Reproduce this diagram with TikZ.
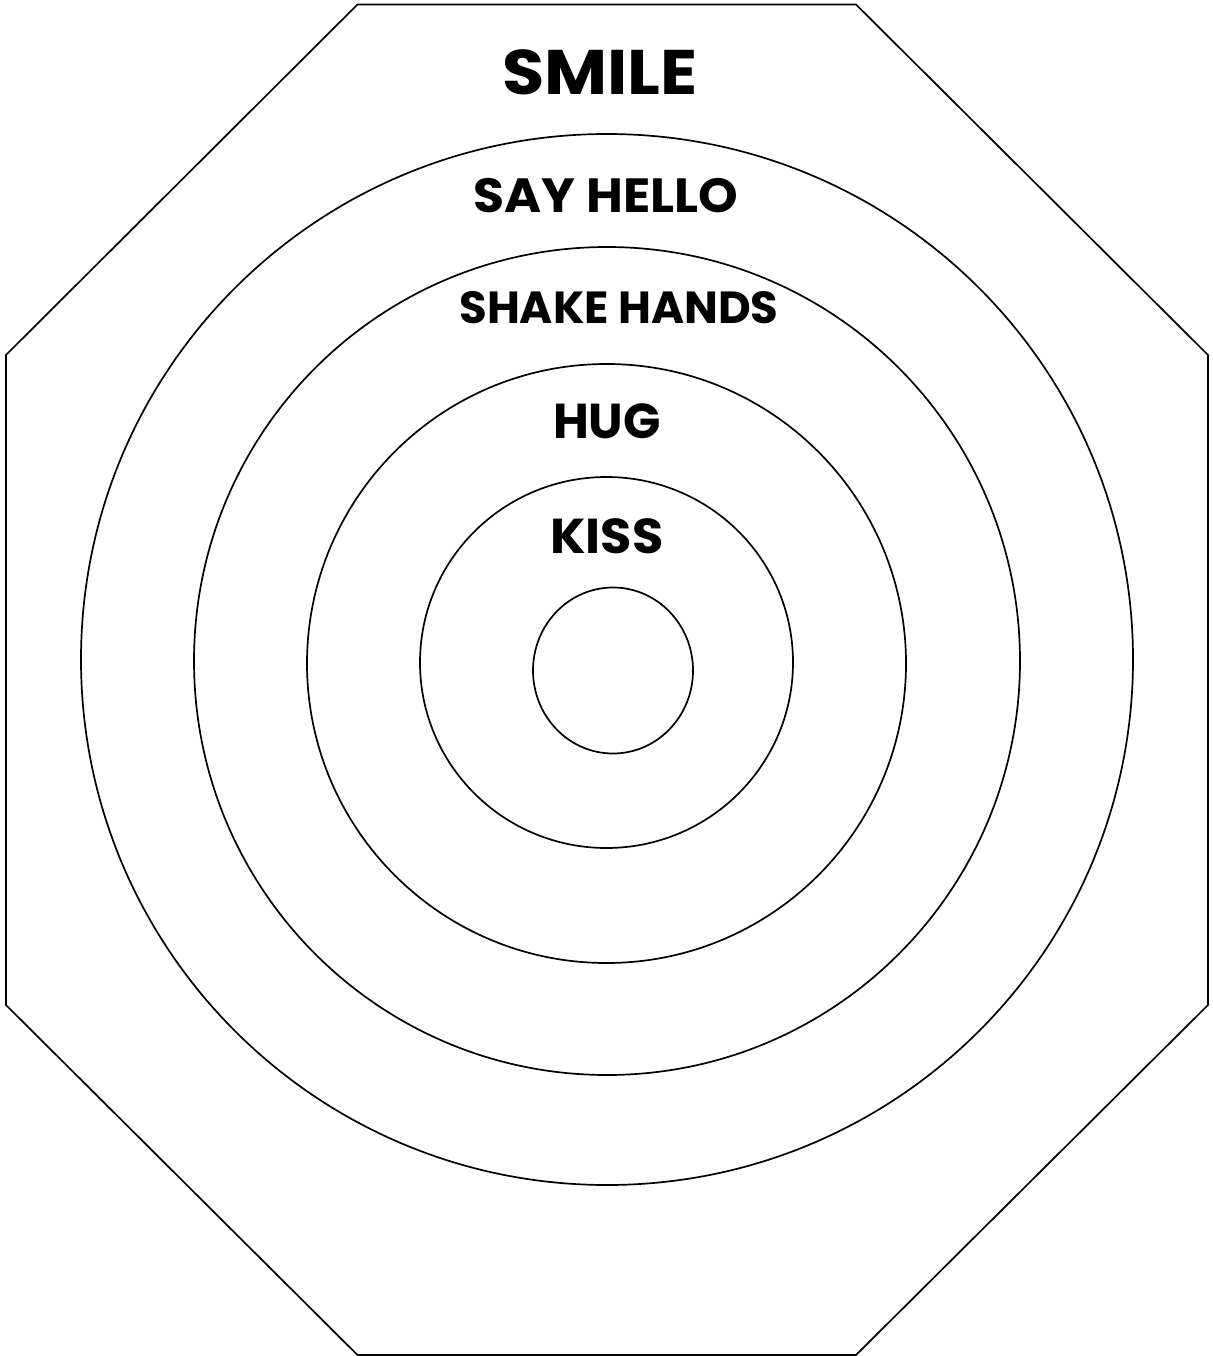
\documentclass[tikz,border=0pt]{standalone}
\usepackage{fontspec}
\setmainfont{Poppins}
\begin{document}
\begin{tikzpicture}[x=1pt,y=-1pt,
  ring/.style={draw=black,line width=1.7pt},
  lbl/.style={font=\bfseries, inner sep=0pt, anchor=base}]
\useasboundingbox (0,0) rectangle (1212,1356);
\fill[white] (0,0) rectangle (1212,1356);
\draw[ring] (357.5,4.5) -- (856,4.5) -- (1208,355) -- (1208,1005) -- (856,1355) -- (357.5,1355) -- (6,1005) -- (6,355) -- cycle;
\draw[ring] (607,659.5) ellipse [x radius=526, y radius=525.5];
\draw[ring] (607,661) ellipse [x radius=413, y radius=414];
\draw[ring] (606.5,663.5) ellipse [x radius=299.5, y radius=299.5];
\draw[ring] (606.5,662.5) ellipse [x radius=186.5, y radius=185.5];
\draw[ring] (613,670.5) ellipse [x radius=80, y radius=83];
\node[lbl, font=\fontsize{63}{63}\selectfont\bfseries] (smile) at (600,95) {\scalebox{1.09}[1]{SMILE}};
\node[lbl, font=\fontsize{48}{48}\selectfont\bfseries] (hello) at (606,213) {\scalebox{1.05}[1]{SAY HELLO}};
\node[lbl, font=\fontsize{45}{45}\selectfont\bfseries] (shake) at (619,323) {SHAKE HANDS};
\node[lbl, font=\fontsize{49}{49}\selectfont\bfseries] (hug) at (607,438) {HUG};
\node[lbl, font=\fontsize{49}{49}\selectfont\bfseries] (kiss) at (607,553) {\scalebox{1.04}[1]{KISS}};
\end{tikzpicture}
\end{document}
